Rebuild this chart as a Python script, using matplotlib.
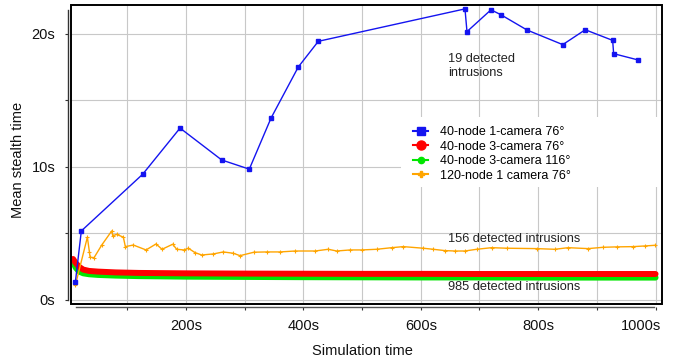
import matplotlib
matplotlib.use("Agg")
import matplotlib.pyplot as plt
from matplotlib.lines import Line2D
from matplotlib.patches import Rectangle
from matplotlib.transforms import ScaledTranslation

plt.rcParams['font.family'] = ['Liberation Sans', 'DejaVu Sans']

# 40-node 1-camera 76 deg (19 detected intrusions)
blue_t = [11.4, 21.6, 126.2, 189.8, 260.8, 307.8, 344.8, 391.3, 425.4, 675.3,
          678.7, 719.6, 736.1, 781, 841.9, 880.2, 926.9, 928.6, 970]
blue_v = [1.3, 5.16, 9.43, 12.9, 10.5, 9.81, 13.65, 17.5, 19.43, 21.87,
          20.16, 21.8, 21.44, 20.28, 19.18, 20.3, 19.5, 18.5, 18.03]

# 40-node 3-camera 76 deg (985 detected intrusions)
red_t = [7.5, 12, 18, 25, 35, 50, 80, 120, 200, 300, 400, 500, 600, 700, 800, 900, 1000]
red_v = [3.05, 2.75, 2.45, 2.25, 2.15, 2.1, 2.04, 2.0, 1.97, 1.95, 1.94, 1.93,
         1.93, 1.92, 1.92, 1.92, 1.92]

# 40-node 3-camera 116 deg
green_t = [7.5, 12, 18, 25, 35, 50, 80, 120, 200, 300, 400, 500, 600, 700, 800, 900, 1000]
green_v = [2.8, 2.4, 2.1, 1.97, 1.9, 1.85, 1.8, 1.76, 1.72, 1.7, 1.68, 1.67,
           1.66, 1.66, 1.65, 1.65, 1.65]

# 120-node 1 camera 76 deg (156 detected intrusions)
orange_t = [11.4, 31.9, 35.3, 36.5, 43.3, 56.4, 73.4, 75.2, 81.9, 93.2, 96.6, 110.2,
            131.9, 148.9, 159.1, 177.3, 184.1, 196.6, 203.9, 215.3, 226.7, 246.5,
            263.5, 280.6, 292, 315.8, 337.5, 360.1, 385.7, 419.8, 442.4, 456.7,
            479.4, 499.2, 524.8, 550.3, 570.1, 604.1, 621.2, 641.1, 658.1, 675.1,
            695.1, 720.6, 746.2, 797.3, 828.4, 851.1, 885.2, 910.7, 933.5, 961.9,
            981.8, 998.9]
orange_v = [1.07, 4.69, 3.6, 3.18, 3.15, 4.1, 5.16, 4.8, 4.9, 4.69, 3.98, 4.1,
            3.73, 4.18, 3.78, 4.16, 3.78, 3.73, 3.86, 3.53, 3.35, 3.43,
            3.58, 3.48, 3.3, 3.56, 3.58, 3.58, 3.65, 3.65, 3.78, 3.65,
            3.73, 3.73, 3.78, 3.9, 3.98, 3.86, 3.78, 3.68, 3.65, 3.65,
            3.78, 3.9, 3.86, 3.83, 3.78, 3.9, 3.83, 3.93, 3.96, 3.98,
            4.03, 4.08]

labels = ["40-node 1-camera 76°", "40-node 3-camera 76°",
          "40-node 3-camera 116°", "120-node 1 camera 76°"]

xticks = list(range(100, 1001, 100))
xticklabels = ["" if t % 200 else f"{t}s" for t in xticks]
yticks = [0, 5, 10, 15, 20]
yticklabels = ["0s", "", "10s", "", "20s"]

BLUE = "#1414f0"
RED = "#ff0000"
GREEN = "#00e600"
ORANGE = "#ffa500"

fig = plt.figure(figsize=(6.74, 3.62), dpi=100)
ax = fig.add_axes([71 / 674, (362 - 303.5) / 362, 591 / 674, 299 / 362])

ax.set_xlim(4, 1011)
ax.set_ylim(-0.3, 22.2)
ax.set_axisbelow(True)
ax.grid(True, color="#c8c8c8", lw=0.8)

# white patch behind legend (hides grid)
ax.add_patch(Rectangle((566.7, 8.48), 1011 - 566.7, 13.75 - 8.48,
                       facecolor="white", edgecolor="none", zorder=1))

ax.plot(green_t, green_v, color=GREEN, lw=4.3, solid_capstyle="round", zorder=2)
ax.plot(red_t, red_v, color=RED, lw=4.3, solid_capstyle="round", zorder=2.1)
ax.plot(orange_t, orange_v, color=ORANGE, lw=1, marker="+", ms=3, mew=0.8, zorder=2.2)
ax.plot(blue_t, blue_v, color=BLUE, lw=1, marker="s", ms=2.5, zorder=2.3)

ax.text(646.5, 17.56, "19 detected\nintrusions", fontsize=9.2, va="center",
        ha="left", linespacing=1.15, color="#222222")
ax.text(646.5, 4.54, "156 detected intrusions", fontsize=9.2, va="center",
        ha="left", color="#222222")
ax.text(646.5, 0.92, "985 detected intrusions", fontsize=9.2, va="center",
        ha="left", color="#222222")

handles = [
    Line2D([], [], color=BLUE, lw=1.5, marker="s", ms=5.5),
    Line2D([], [], color=RED, lw=1.5, marker="o", ms=6.5),
    Line2D([], [], color=GREEN, lw=1.5, marker="o", ms=4.5),
    Line2D([], [], color=ORANGE, lw=1.5, marker="P", ms=5),
]
ax.legend(handles, labels, loc="upper left", bbox_to_anchor=(0.5787, 0.5936),
          frameon=False, fontsize=9, borderpad=0, borderaxespad=0,
          handlelength=1.2, handletextpad=0.95, labelspacing=0.2)

# frame box
ax.add_patch(Rectangle((0, 0), 1, 1, transform=ax.transAxes, fill=False,
                       edgecolor="black", lw=1.4, clip_on=False, zorder=5))
ax.spines["top"].set_visible(False)
ax.spines["right"].set_visible(False)
ax.spines["left"].set_position(("outward", 1.9))
ax.spines["bottom"].set_position(("outward", 2.4))
ax.spines["left"].set_bounds(0, 21.8)
ax.spines["bottom"].set_bounds(12.7, 998)
ax.spines["left"].set_color("#333333")
ax.spines["bottom"].set_color("#555555")
ax.spines["left"].set_linewidth(1.0)
ax.spines["bottom"].set_linewidth(1.0)

ax.set_xticks(xticks)
ax.set_xticklabels(xticklabels)
ax.set_yticks(yticks)
ax.set_yticklabels(yticklabels)
ax.tick_params(direction="out", length=2.5, width=0.8, color="#333333",
               labelsize=10.5, labelcolor="#111111")
ax.tick_params(axis="x", pad=6)
ax.tick_params(axis="y", pad=7)

last = ax.get_xticklabels()[-1]
last.set_horizontalalignment("right")
last.set_transform(last.get_transform() + ScaledTranslation(0.054, 0, fig.dpi_scale_trans))

ax.set_xlabel("Simulation time", fontsize=10.5, color="#111111")
ax.set_ylabel("Mean stealth time", fontsize=10.5, color="#111111")
ax.xaxis.set_label_coords((362 - 71) / 591, (303.5 - 344) / 299)
ax.yaxis.set_label_coords((25 - 71) / 591, (303.5 - 160) / 299)

fig.savefig("out.png", dpi=100)
